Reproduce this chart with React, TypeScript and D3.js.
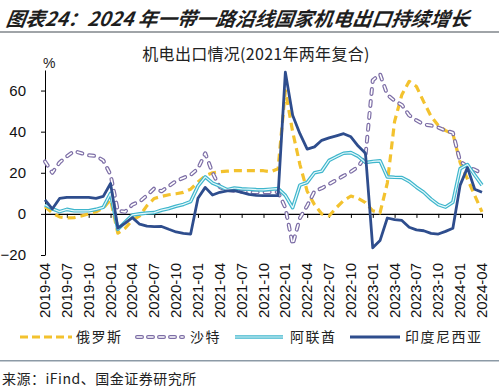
import React, { useRef, useEffect } from "react";
import * as d3 from "d3";

// monthly, 2019-04 .. 2024-04
const months = d3.timeMonths(new Date(2019, 3, 1), new Date(2024, 4, 1)).map(d3.timeFormat("%Y-%m"));

const tickLabels = [
  "2019-04", "2019-07", "2019-10", "2020-01", "2020-04", "2020-07", "2020-10",
  "2021-01", "2021-04", "2021-07", "2021-10", "2022-01", "2022-04", "2022-07",
  "2022-10", "2023-01", "2023-04", "2023-07", "2023-10", "2024-01", "2024-04",
];

const russia = [
  3.5, 0.5, -1.5, -2, -1.8, -1, 0, 1, 2.8, 7, -9.4, -7, -3, -1, 4, 7.5, 8.5, 9.3, 9.8, 10.5,
  12, 15.5, 18.5, 20, 20.5, 20.8, 21, 21, 21, 21, 21, 20.5, 22, 60, 40, 24, 11, 4.5, 0, -1,
  3, 6.5, 8.7, 7.5, 5.5, 1.5, 0.5, 15, 45, 58, 64.5, 62, 54.5, 47.5, 43, 40.5, 39, 25, 17, 9, 1,
];
const saudi = [
  25.5, 20, 25, 28, 30.5, 29.5, 28.5, 28.2, 26, 19, 1.5, 1, 4.5, 6, 9, 12.4, 11, 13.5, 16, 17.5,
  19, 22, 29.5, 20, 13, 11.7, 11.2, 10.8, 10.6, 10.5, 10.5, 10.6, 10.6, 3, -15, -2, 4, 11, 12.5, 14.5,
  16.5, 18.5, 20.5, 23, 28, 65, 68, 58, 55, 53, 48, 45.5, 43.5, 43, 42, 40.5, 39.5, 25.5, 23, 21.5, 19.7,
];
const uae = [
  4.4, 2.5, 1.1, 2.2, 1.5, 1.5, 1.5, 2.2, 3.2, 10, -7.5, -4, -0.5, 0, 0.4, 0.6, 1.8, 2.6, 3.7, 4.6,
  6, 13.5, 18, 15, 13.5, 11.8, 12.6, 12.2, 12, 11.8, 11.7, 12, 12.3, 9, 3, 14, 15.3, 20, 20.8, 26,
  27.8, 29.5, 29.8, 28, 25, 25.5, 25.8, 18, 17.8, 17.7, 15.8, 13, 10.5, 7.2, 4.5, 3.3, 5.7, 22, 24, 18.9, 14,
];
const indonesia = [
  6.8, 2.4, 7.5, 8, 8, 8, 8, 7.5, 8.5, 14.8, -6.9, -4.5, -1.8, -5, -6, -6.2, -6.1, -7.5, -8.8, -9.5,
  -9.8, 7.6, 12.9, 9.2, 10.5, 11.2, 11.3, 10.5, 9.5, 9, 8.9, 8.9, 8.9, 68.9, 48, 39, 31.5, 32.6, 35.8, 37,
  38, 39, 37.5, 33, 29.5, -16.5, -13, -2, -2.8, -3.2, -6.5, -7.8, -8.2, -9.5, -9.8, -8.5, -7, 14, 22.5, 12, 10.5,
];

const yTicks = [-20, 0, 20, 40, 60];

const latin = "'Liberation Sans', Arial, 'Noto Sans CJK SC', sans-serif";
const cjk = "'Noto Sans CJK SC', 'Liberation Sans', sans-serif";

const App = () => {
  const ref = useRef<SVGSVGElement>(null);

  useEffect(() => {
    const svg = d3.select(ref.current);
    svg.selectAll("*").remove();

    const x = d3.scalePoint<string>().domain(months).range([45, 482]);
    const y = d3.scaleLinear().domain([-20, 70]).range([255, 70]);

    // header
    svg.append("text").attr("x", 5).attr("y", 26)
      .attr("font-family", cjk).attr("font-size", 19.5).attr("font-weight", "bold")
      .attr("font-style", "italic").attr("fill", "#1e1e1e")
      .attr("transform", "skewX(-8) translate(4,0)")
      .text("图表24：2024 年一带一路沿线国家机电出口持续增长");
    svg.append("rect").attr("x", 0).attr("y", 31).attr("width", 499).attr("height", 2).attr("fill", "#a0a4a8");

    svg.append("text").attr("x", 256).attr("y", 60).attr("text-anchor", "middle")
      .attr("font-family", cjk).attr("font-size", 16).attr("fill", "#222")
      .attr("letter-spacing", 0.3)
      .text("机电出口情况(2021年两年复合)");
    svg.append("text").attr("x", 43).attr("y", 68)
      .attr("font-family", latin).attr("font-size", 14).attr("fill", "#222").text("%");

    // y axis
    const yAxis = svg.append("g").attr("transform", "translate(45,0)")
      .call(d3.axisLeft(y).tickValues(yTicks).tickSize(4).tickSizeOuter(0).tickPadding(15));
    yAxis.selectAll("text").attr("font-family", latin).attr("font-size", 15).attr("fill", "#111");

    // x axis at zero
    const xAxis = svg.append("g").attr("transform", `translate(0,${y(0)})`)
      .call(d3.axisBottom(x).tickValues(tickLabels).tickSize(4).tickSizeOuter(0).tickFormat(() => ""));
    xAxis.select(".domain").attr("stroke-width", 1.3);

    svg.append("g").selectAll("text").data(tickLabels).enter().append("text")
      .attr("transform", (d) => `translate(${x(d)! + 5},263) rotate(-90)`)
      .attr("text-anchor", "end")
      .attr("font-family", latin).attr("font-size", 15).attr("fill", "#111")
      .text((d) => d);

    const line = d3.line<number>().x((_, i) => x(months[i])!).y((d) => y(d));

    const plot = svg.append("g").attr("fill", "none").attr("stroke-linejoin", "round");
    // Russia
    plot.append("path").attr("d", line(russia)).attr("stroke", "#f3c22e")
      .attr("stroke-width", 3.2).attr("stroke-dasharray", "8,5");
    // Saudi: hollow capsule dashes
    plot.append("path").attr("d", line(saudi)).attr("stroke", "#7d6ea6")
      .attr("stroke-width", 4).attr("stroke-dasharray", "5,7").attr("stroke-linecap", "round");
    plot.append("path").attr("d", line(saudi)).attr("stroke", "#fff")
      .attr("stroke-width", 1.6).attr("stroke-dasharray", "5,7").attr("stroke-linecap", "round");
    // UAE: double line
    plot.append("path").attr("d", line(uae)).attr("stroke", "#3fb6cc").attr("stroke-width", 3.6);
    plot.append("path").attr("d", line(uae)).attr("stroke", "#e6f8fb").attr("stroke-width", 1.2);
    // Indonesia
    plot.append("path").attr("d", line(indonesia)).attr("stroke", "#2e4d8d").attr("stroke-width", 2.8);

    // legend
    const ly = 337;
    const lg = svg.append("g").attr("fill", "none");
    lg.append("line").attr("x1", 20).attr("x2", 72).attr("y1", ly).attr("y2", ly)
      .attr("stroke", "#f3c22e").attr("stroke-width", 3).attr("stroke-dasharray", "8,4");
    lg.append("line").attr("x1", 137).attr("x2", 183).attr("y1", ly).attr("y2", ly)
      .attr("stroke", "#7d6ea6").attr("stroke-width", 4).attr("stroke-dasharray", "5,6").attr("stroke-linecap", "round");
    lg.append("line").attr("x1", 137).attr("x2", 183).attr("y1", ly).attr("y2", ly)
      .attr("stroke", "#fff").attr("stroke-width", 1.6).attr("stroke-dasharray", "5,6").attr("stroke-linecap", "round");
    lg.append("line").attr("x1", 235).attr("x2", 283).attr("y1", ly).attr("y2", ly)
      .attr("stroke", "#3fb6cc").attr("stroke-width", 3.6);
    lg.append("line").attr("x1", 235).attr("x2", 283).attr("y1", ly).attr("y2", ly)
      .attr("stroke", "#e6f8fb").attr("stroke-width", 1.2);
    lg.append("line").attr("x1", 350).attr("x2", 400).attr("y1", ly).attr("y2", ly)
      .attr("stroke", "#2e4d8d").attr("stroke-width", 2.8);

    const legendText = [
      { x: 76, t: "俄罗斯" },
      { x: 190, t: "沙特" },
      { x: 290, t: "阿联酋" },
      { x: 405, t: "印度尼西亚" },
    ];
    svg.append("g").selectAll("text").data(legendText).enter().append("text")
      .attr("x", (d) => d.x).attr("y", ly + 5)
      .attr("font-family", cjk).attr("font-size", 14).attr("fill", "#222")
      .attr("letter-spacing", 1.5)
      .text((d) => d.t);

    // footer
    svg.append("rect").attr("x", 0).attr("y", 360).attr("width", 499).attr("height", 1.5).attr("fill", "#8c9aa6");
    svg.append("text").attr("x", 2).attr("y", 384)
      .attr("font-family", cjk).attr("font-size", 14).attr("fill", "#222")
      .attr("letter-spacing", 0.5)
      .text("来源：iFind、国金证券研究所");
  }, []);

  return (
    <svg ref={ref} width={499} height={387}
      style={{ position: "absolute", left: 0, top: 0, background: "#fff" }} />
  );
};

export default App;
